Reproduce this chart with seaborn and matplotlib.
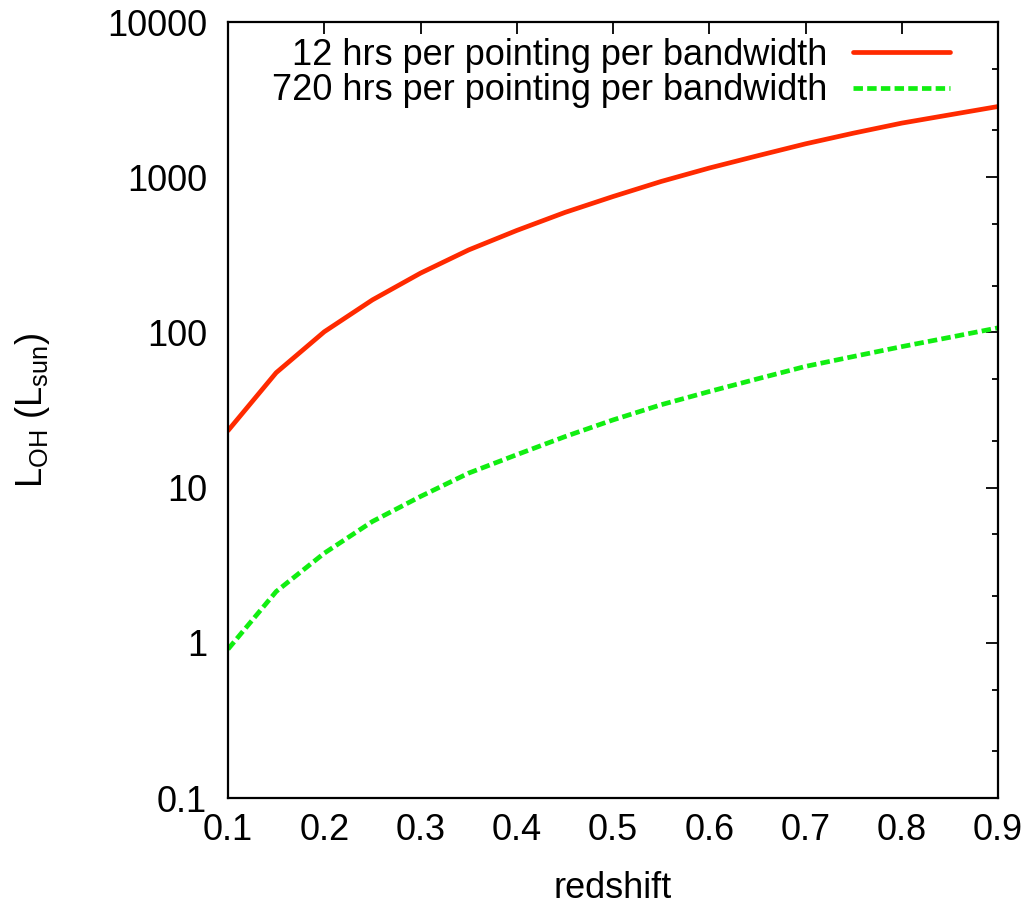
import matplotlib
matplotlib.use("Agg")
import matplotlib.pyplot as plt
import numpy as np
import pandas as pd
import seaborn as sns
from matplotlib.ticker import LogLocator, FixedLocator, NullFormatter

sns.set_style("white")
plt.rcParams["font.family"] = ["Liberation Sans", "DejaVu Sans"]
plt.rcParams["mathtext.fontset"] = "custom"
plt.rcParams["mathtext.rm"] = "Liberation Sans"
plt.rcParams["text.color"] = "black"
plt.rcParams["axes.labelcolor"] = "black"

redshift = [0.10, 0.15, 0.20, 0.25, 0.30, 0.35, 0.40, 0.45, 0.50,
            0.55, 0.60, 0.65, 0.70, 0.75, 0.80, 0.85, 0.90]
lum_12h = [23.3, 55, 101, 162, 241, 340, 454, 593, 751,
           939, 1146, 1374, 1641, 1924, 2232, 2525, 2855]
lum_720h = [0.91, 2.14, 3.78, 6.05, 8.77, 12.4, 16.3, 21.3, 27.3,
            34.2, 41.6, 50.2, 60.4, 70, 81, 93, 107]

label_12 = "12 hrs per pointing per bandwidth"
label_720 = "720 hrs per pointing per bandwidth"

df = pd.DataFrame({
    "redshift": redshift * 2,
    "L": lum_12h + lum_720h,
    "series": [label_12] * len(redshift) + [label_720] * len(redshift),
})

fig = plt.figure(figsize=(10.3, 9.06), dpi=100)
ax = fig.add_axes([0.2214, 0.1192, 0.7476, 0.8565])

sns.lineplot(data=df, x="redshift", y="L", hue="series", style="series",
             palette={label_12: "#ff2a00", label_720: "#11ee11"},
             dashes={label_12: "", label_720: (2, 0.9)},
             linewidth=3.4, ax=ax)

ax.set_yscale("log")
ax.set_xlim(0.1, 0.9)
ax.set_ylim(0.1, 10000)
ax.xaxis.set_major_locator(FixedLocator(np.arange(0.1, 0.91, 0.1)))
ax.set_xticklabels([f"{v:.1f}" for v in np.arange(0.1, 0.91, 0.1)])
ax.yaxis.set_major_locator(FixedLocator([0.1, 1, 10, 100, 1000, 10000]))
ax.set_yticklabels(["0.1", "1", "10", "100", "1000", "10000"])
ax.yaxis.set_minor_locator(LogLocator(base=10, subs=(2, 5)))
ax.yaxis.set_minor_formatter(NullFormatter())

ax.tick_params(axis="both", which="both", direction="in", top=True, right=True,
               labelsize=26, colors="black")
ax.tick_params(axis="both", which="major", length=8.5, width=1.3)
ax.tick_params(axis="both", which="minor", length=4, width=1.3)
ax.tick_params(axis="y", which="major", pad=15)
ax.tick_params(axis="x", which="major", pad=11)
for s in ax.spines.values():
    s.set_linewidth(1.6)
    s.set_color("black")

ax.set_xlabel("redshift", fontsize=26, labelpad=16)
ax.set_ylabel(r"L$_\mathrm{OH}$ (L$_\mathrm{sun}$)", fontsize=26, labelpad=40)

ax.legend(loc="upper right", bbox_to_anchor=(0.9377, 0.98), frameon=False,
          markerfirst=False, fontsize=26, handlelength=2.7, handletextpad=0.7,
          labelspacing=0.02, borderpad=0, borderaxespad=0)

fig.savefig("out.png", dpi=100)
